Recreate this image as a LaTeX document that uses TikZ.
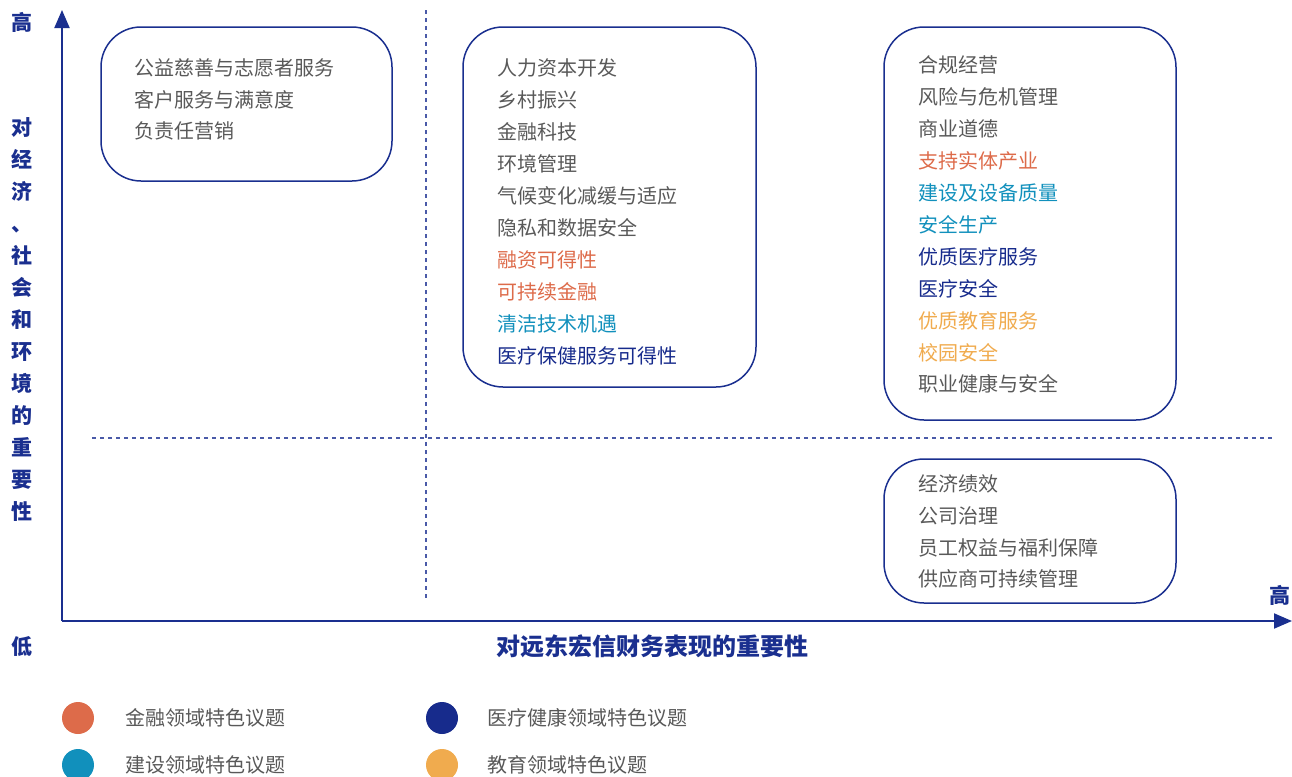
\documentclass[tikz,border=0pt]{standalone}
\usepackage{fontspec}
\setmainfont{Noto Sans CJK SC}
\usetikzlibrary{arrows.meta,positioning}

\definecolor{navy}{HTML}{1A2F8F}
\definecolor{dashnavy}{HTML}{4A5AA8}
\definecolor{txtgray}{HTML}{595959}
\definecolor{fin}{HTML}{DD6B4A}
\definecolor{con}{HTML}{1190BC}
\definecolor{med}{HTML}{172B8C}
\definecolor{edu}{HTML}{F0AB4E}

\tikzset{
  axis/.style={navy,line width=1pt,-{Triangle[length=9pt,width=7.5pt]}},
  grid/.style={dashnavy,line width=0.75pt,dash pattern=on 2.2pt off 1.8pt},
  box/.style={navy,line width=0.75pt,rounded corners=20pt},
  item/.style={anchor=west,inner sep=0pt,text=txtgray,font=\fontsize{10}{10}\selectfont},
  axlabel/.style={inner sep=0pt,text=navy,font=\fontsize{10.5}{10.5}\selectfont\bfseries},
  dot/.style={circle,minimum size=16pt,inner sep=0pt}
}

\begin{document}
\begin{tikzpicture}[x=0.5pt,y=-0.5pt]
      \useasboundingbox (0,0) rectangle (1292,777);
      % axes
      \coordinate (O) at (62,621);
      \coordinate (ytop) at (62,10);
      \coordinate (xend) at (1292,621);
      \draw [grid] (426,10) -- (426,600);
      \draw [grid] (92,438) -- (1272,438);
      \draw [axis] (O) -- (ytop);
      \draw [axis] (O) -- (xend);
      \node [axlabel] (yhigh) at (22,22) {高};
      \node [axlabel] (ylow) at (22,647) {低};
      \node [axlabel] (xhigh) at (1280,595) {高};
      \node [axlabel,align=center] (ytitle) at (22,320) {对\\[5.5pt]经\\[5.5pt]济\\[5.5pt]、\\[5.5pt]社\\[5.5pt]会\\[5.5pt]和\\[5.5pt]环\\[5.5pt]境\\[5.5pt]的\\[5.5pt]重\\[5.5pt]要\\[5.5pt]性};
      \node [axlabel,font=\fontsize{12}{12}\selectfont\bfseries] (xtitle) at (652,646) {对远东宏信财务表现的重要性};
      % boxes
      \draw [box] (101,27) rectangle (392,181);
      \draw [box] (463,27) rectangle (756,387);
      \draw [box] (884,27) rectangle (1176,420);
      \draw [box] (884,459) rectangle (1176,603);
      % box 1
      \node [item] (a1) at (134,68) {公益慈善与志愿者服务};
      \node [item] (a2) at (134,100) {客户服务与满意度};
      \node [item] (a3) at (134,131) {负责任营销};
      % box 2
      \node [item] (b1) at (497,68) {人力资本开发};
      \node [item] (b2) at (497,100) {乡村振兴};
      \node [item] (b3) at (497,132) {金融科技};
      \node [item] (b4) at (497,164) {环境管理};
      \node [item] (b5) at (497,196) {气候变化减缓与适应};
      \node [item] (b6) at (497,228) {隐私和数据安全};
      \node [item,text=fin] (b7) at (497,260) {融资可得性};
      \node [item,text=fin] (b8) at (497,292) {可持续金融};
      \node [item,text=con] (b9) at (497,324) {清洁技术机遇};
      \node [item,text=med] (b10) at (497,356) {医疗保健服务可得性};
      % box 3
      \node [item] (c1) at (918,65) {合规经营};
      \node [item] (c2) at (918,97) {风险与危机管理};
      \node [item] (c3) at (918,129) {商业道德};
      \node [item,text=fin] (c4) at (918,161) {支持实体产业};
      \node [item,text=con] (c5) at (918,193) {建设及设备质量};
      \node [item,text=con] (c6) at (918,225) {安全生产};
      \node [item,text=med] (c7) at (918,257) {优质医疗服务};
      \node [item,text=med] (c8) at (918,289) {医疗安全};
      \node [item,text=edu] (c9) at (918,321) {优质教育服务};
      \node [item,text=edu] (c10) at (918,353) {校园安全};
      \node [item] (c11) at (918,384) {职业健康与安全};
      % box 4
      \node [item] (d1) at (918,484) {经济绩效};
      \node [item] (d2) at (918,516) {公司治理};
      \node [item] (d3) at (918,548) {员工权益与福利保障};
      \node [item] (d4) at (918,579) {供应商可持续管理};
      % legend
      \node [dot,fill=fin] (l1) at (78,718) {};
      \node [item] (l1t) at (125,718) {金融领域特色议题};
      \node [dot,fill=con] (l2) at (78,765) {};
      \node [item] (l2t) at (125,765) {建设领域特色议题};
      \node [dot,fill=med] (l3) at (442,718) {};
      \node [item] (l3t) at (487,718) {医疗健康领域特色议题};
      \node [dot,fill=edu] (l4) at (442,765) {};
      \node [item] (l4t) at (487,765) {教育领域特色议题};
\end{tikzpicture}
\end{document}
